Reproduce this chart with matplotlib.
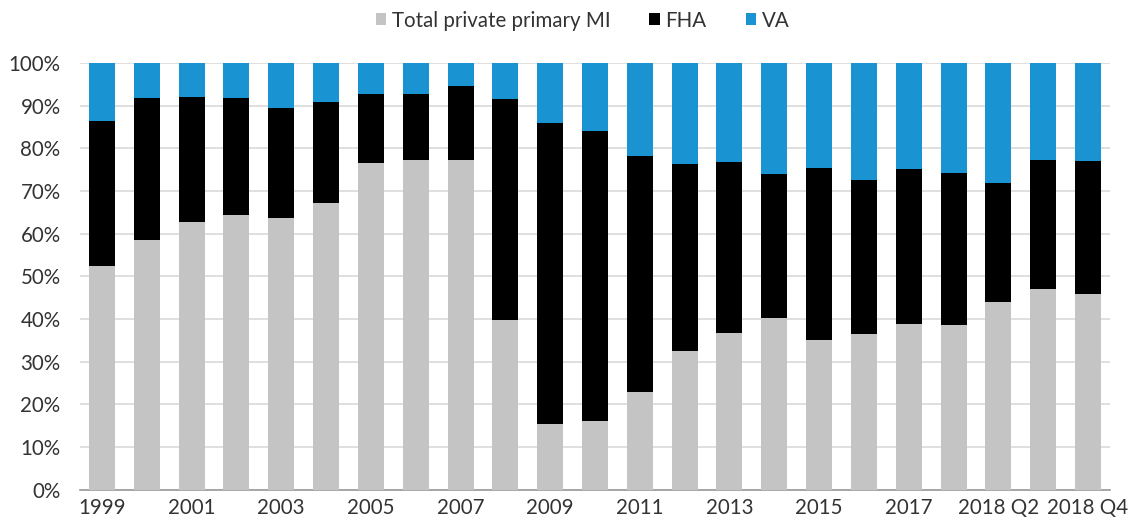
import matplotlib
matplotlib.use("Agg")
import matplotlib.pyplot as plt
import numpy as np
from matplotlib.ticker import PercentFormatter

categories = ["1999", "2000", "2001", "2002", "2003", "2004", "2005", "2006", "2007",
              "2008", "2009", "2010", "2011", "2012", "2013", "2014", "2015", "2016",
              "2017", "2018 Q1", "2018 Q2", "2018 Q3", "2018 Q4"]
private_mi = [52.5, 58.5, 62.8, 64.4, 63.6, 67.1, 76.5, 77.3, 77.3, 39.8, 15.5, 16.2,
              23.0, 32.6, 36.8, 40.3, 35.1, 36.5, 38.9, 38.7, 44.1, 47.0, 45.8]
fha_top = [86.3, 91.9, 92.1, 91.9, 89.5, 90.9, 92.8, 92.8, 94.5, 91.6, 85.9, 84.1,
           78.1, 76.3, 76.9, 74.0, 75.3, 72.6, 75.1, 74.2, 72.0, 77.3, 77.0]
fha = [t - p for t, p in zip(fha_top, private_mi)]
va = [100 - t for t in fha_top]

plt.rcParams['font.family'] = ['Lato', 'DejaVu Sans']

fig = plt.figure(figsize=(11.31, 5.25), dpi=100)
ax = fig.add_axes([80 / 1131, 0.067, 1030 / 1131, 0.813])

x = np.arange(len(categories))
w = 0.58
ax.bar(x, private_mi, w, color="#C4C4C4", label="Total private primary MI", zorder=3)
ax.bar(x, fha, w, bottom=private_mi, color="#000000", label="FHA", zorder=3)
ax.bar(x, va, w, bottom=fha_top, color="#1A93D2", label="VA", zorder=3)

ax.set_xlim(-0.49, len(categories) - 0.51)
ax.set_ylim(0, 100)
ax.set_yticks(np.arange(0, 101, 10))
ax.yaxis.set_major_formatter(PercentFormatter(decimals=0))
ax.grid(axis="y", color="#D9D9D9", linewidth=1.2, zorder=0)
ax.set_xticks(x[::2])
ax.set_xticklabels([categories[i] for i in range(0, len(categories), 2)])
ax.tick_params(axis="both", length=0, labelsize=14.8, colors="#333333")
ax.tick_params(axis="y", pad=14)
ax.tick_params(axis="x", pad=6)
for s in ["top", "right", "left"]:
    ax.spines[s].set_visible(False)
ax.spines["bottom"].set_color("#9A9A9A")
ax.spines["bottom"].set_linewidth(1.2)

leg = fig.legend(loc="upper center", bbox_to_anchor=(0.515, 1.015), ncol=3, frameon=False,
                 fontsize=14.8, handlelength=0.5, handleheight=0.5, handletextpad=0.28,
                 columnspacing=1.9)
for t in leg.get_texts():
    t.set_color("#333333")

fig.savefig("out.png", dpi=100)
